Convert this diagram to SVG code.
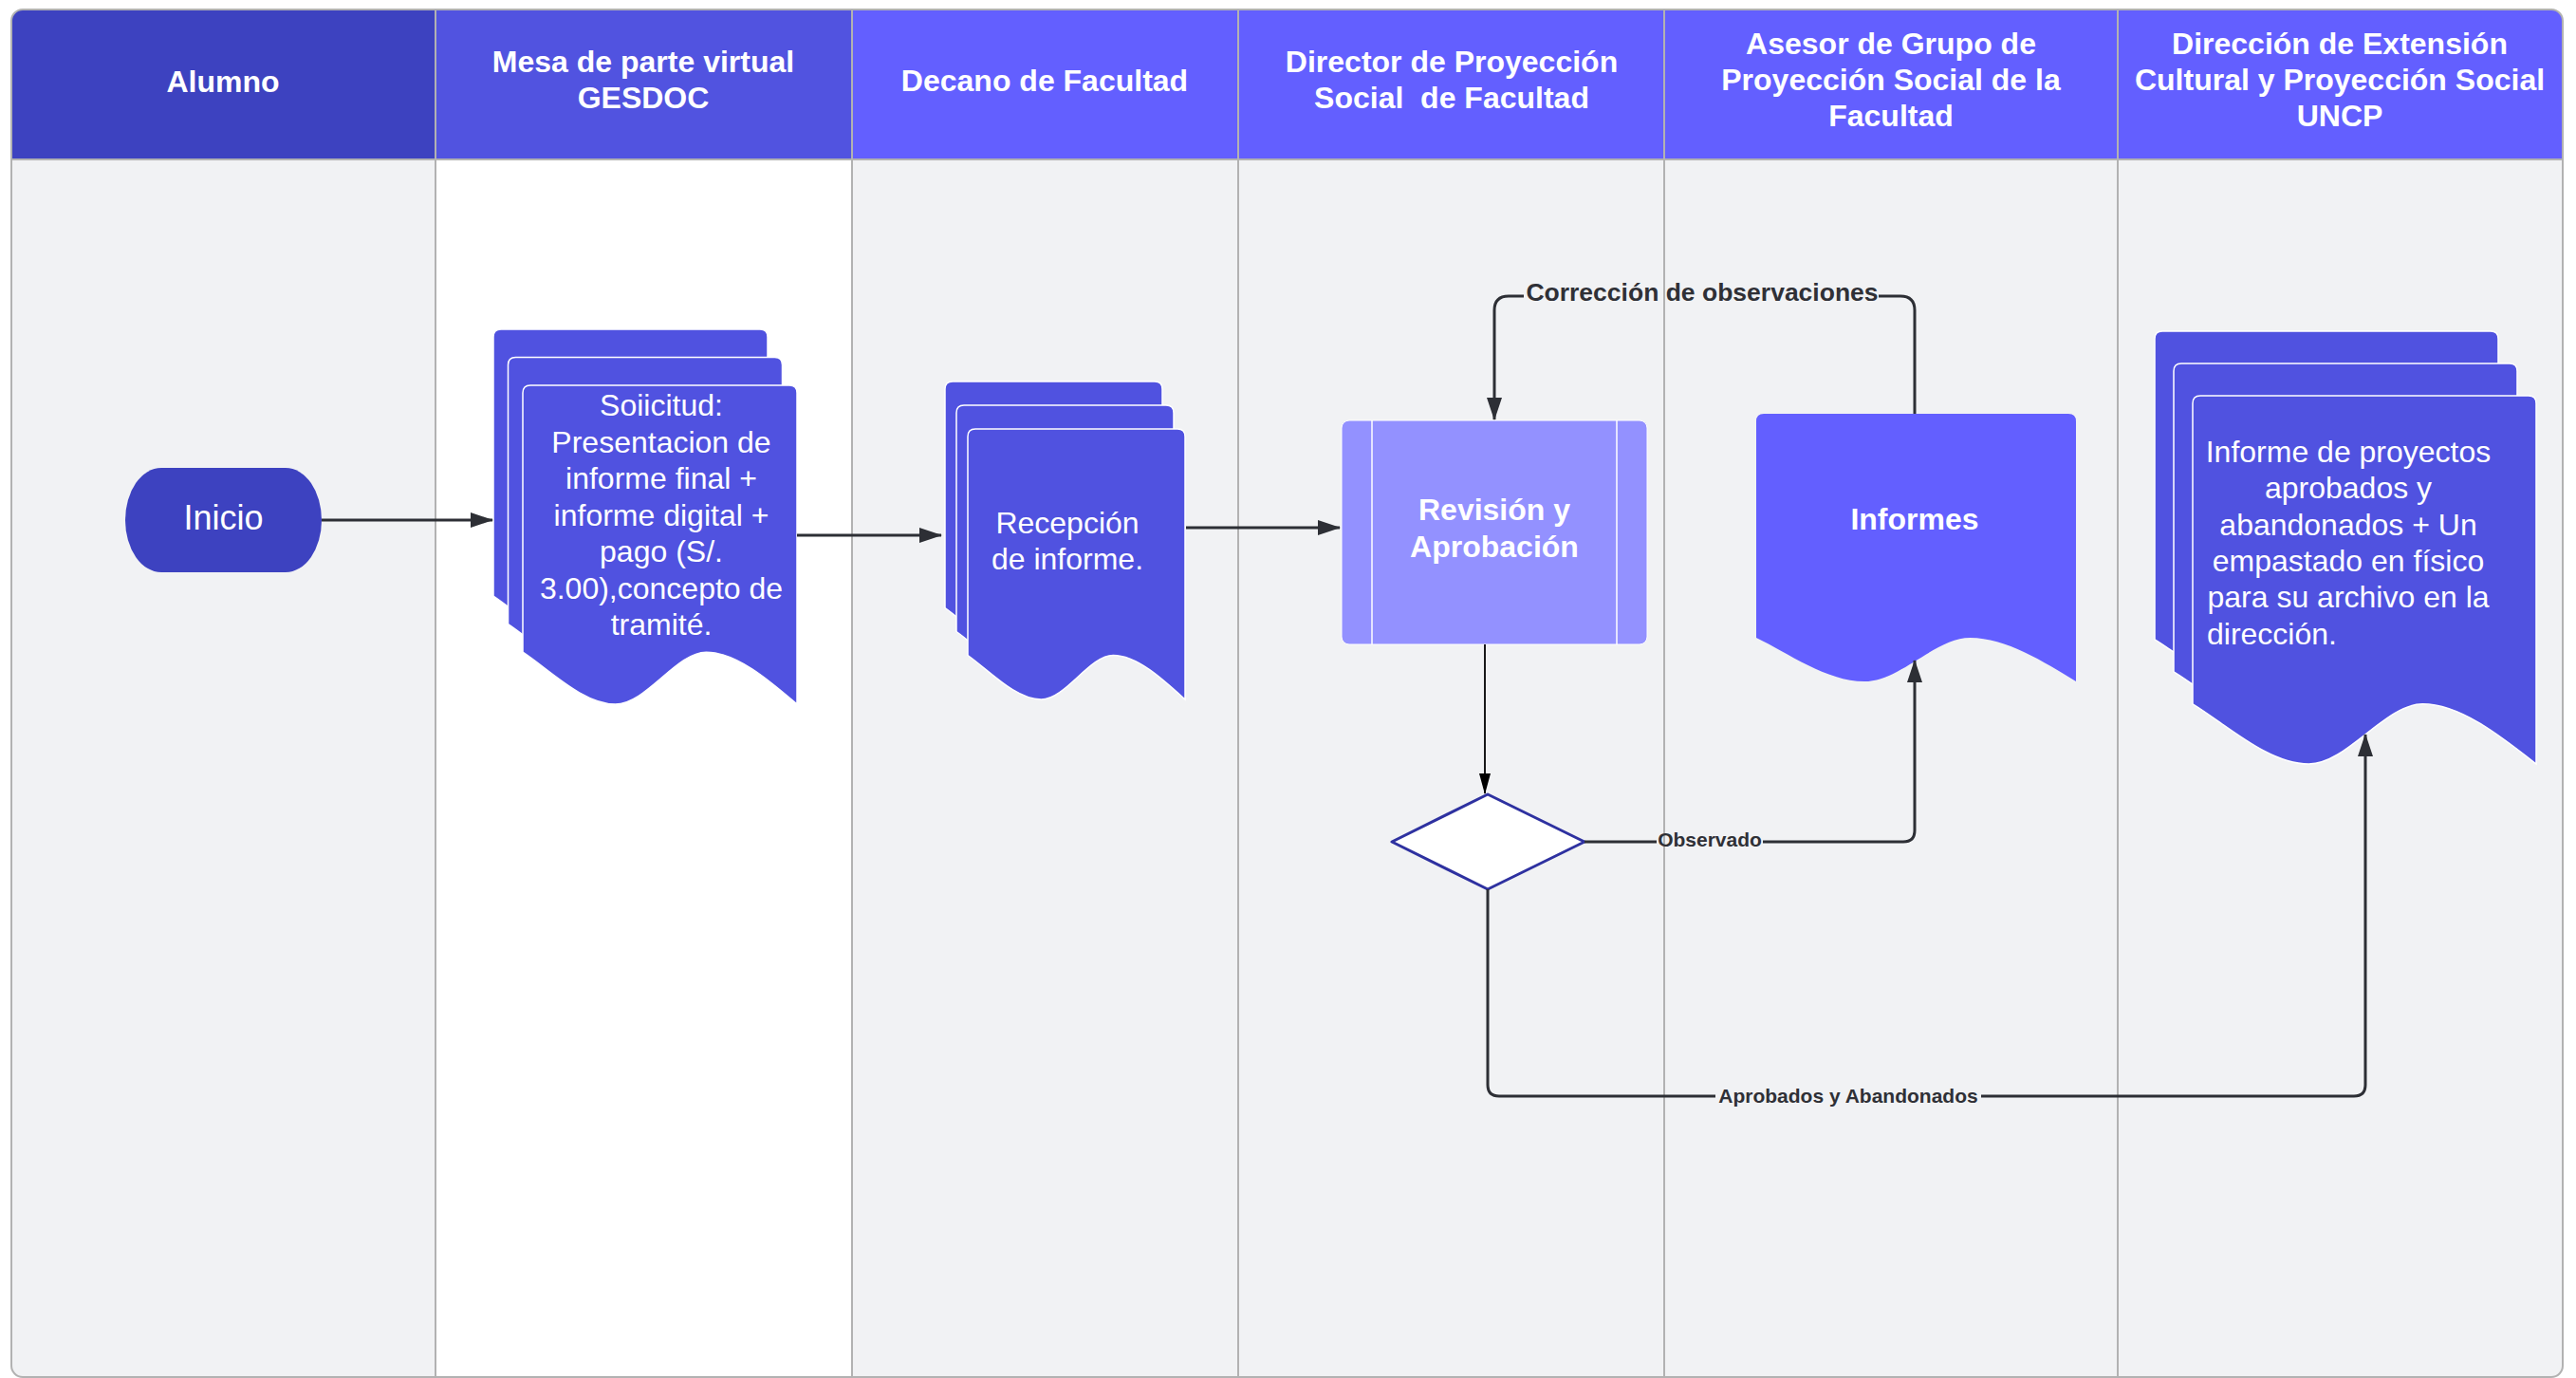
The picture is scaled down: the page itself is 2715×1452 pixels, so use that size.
<svg xmlns="http://www.w3.org/2000/svg" width="2715" height="1452" viewBox="0 0 2715 1452">
<defs>
<style>
.lane-gray{fill:#F1F2F4}
.lane-white{fill:#FFFFFF}
.divider{stroke:#B2B2B2;stroke-width:2;fill:none}
.hdr{font-family:"Liberation Sans",Arial,sans-serif;font-weight:bold;font-size:32px;fill:#FFFFFF;text-anchor:middle}
.body{font-family:"Liberation Sans",Arial,sans-serif;font-size:32px;fill:#FFFFFF;text-anchor:middle}
.bold{font-weight:bold}
.left{text-anchor:start}
.big{font-size:36px}
.page{fill:#5052E0;stroke:#FFFFFF;stroke-width:1.5}
.conn{fill:none;stroke:#2D2F35;stroke-width:3;stroke-linejoin:round}
.thin{fill:none;stroke:#000000;stroke-width:1.8}
.lbl{font-family:"Liberation Sans",Arial,sans-serif;font-weight:bold;fill:#2F3036;text-anchor:middle;font-size:21px}
.lbl-l{font-size:26.5px}
</style>
<clipPath id="frame"><rect x="12" y="10" width="2689" height="1441" rx="12" ry="12"/></clipPath>
<marker id="arr" markerUnits="userSpaceOnUse" markerWidth="24" markerHeight="16" viewBox="0 0 24 16" refX="23" refY="8" orient="auto">
<path d="M0,0 L24,8 L0,16 Z" fill="#2D2F35"/>
</marker>
<marker id="arrThin" markerUnits="userSpaceOnUse" markerWidth="22" markerHeight="12" viewBox="0 0 22 12" refX="21" refY="6" orient="auto">
<path d="M0,0 L22,6 L0,12 Z" fill="#000000"/>
</marker>
<path id="pageMesa" d="M0,281.2 V8 Q0,0 8,0 H281 Q289,0 289,8 V336 C260.1,311.3 225.4,281.2 193.3,281.2 C161.8,281.2 130.1,336 97.7,336 C63.6,336 28.9,300.4 0,281.2 Z"/>
<path id="pageDec" d="M0,238.5 V8 Q0,0 8,0 H221 Q229,0 229,8 V285 C206.1,264.1 178.6,238.5 153.2,238.5 C128.2,238.5 103.1,285 77.4,285 C50.4,285 22.9,254.8 0,238.5 Z"/>
<path id="pageDir" d="M0,324.8 V8 Q0,0 8,0 H354 Q362,0 362,8 V388 C325.8,359.6 282.4,324.8 242.2,324.8 C202.7,324.8 162.9,388 122.4,388 C79.6,388 36.2,346.9 0,324.8 Z"/>
</defs>

<g id="pool" clip-path="url(#frame)">
<rect class="lane-gray" x="12" y="10" width="447" height="1442"/>
<rect class="lane-white" x="459" y="10" width="439" height="1442"/>
<rect class="lane-gray" x="898" y="10" width="1803" height="1442"/>
<rect x="12" y="10" width="447" height="158" fill="#3D42C0"/>
<rect x="459" y="10" width="439" height="158" fill="#5153E0"/>
<rect x="898" y="10" width="1803" height="158" fill="#635FFF"/>
<line class="divider" x1="12" y1="168" x2="2701" y2="168"/>
<line class="divider" x1="459" y1="10" x2="459" y2="1452"/>
<line class="divider" x1="898" y1="10" x2="898" y2="1452"/>
<line class="divider" x1="1305" y1="10" x2="1305" y2="1452"/>
<line class="divider" x1="1754" y1="10" x2="1754" y2="1452"/>
<line class="divider" x1="2232" y1="10" x2="2232" y2="1452"/>
</g>
<rect x="12" y="10" width="2689" height="1441" rx="12" ry="12" fill="none" stroke="#B2B2B2" stroke-width="2"/>

<g id="headers">
<text class="hdr" x="235" y="97">Alumno</text>
<text class="hdr" x="678" y="76">Mesa de parte virtual</text>
<text class="hdr" x="678" y="114">GESDOC</text>
<text class="hdr" x="1101" y="96">Decano de Facultad</text>
<text class="hdr" x="1530" y="76">Director de Proyección</text>
<text class="hdr" x="1530" y="114" xml:space="preserve">Social  de Facultad</text>
<text class="hdr" x="1993" y="57">Asesor de Grupo de</text>
<text class="hdr" x="1993" y="95">Proyección Social de la</text>
<text class="hdr" x="1993" y="133">Facultad</text>
<text class="hdr" x="2466" y="57">Dirección de Extensión</text>
<text class="hdr" x="2466" y="95">Cultural y Proyección Social</text>
<text class="hdr" x="2466" y="133">UNCP</text>
</g>

<g id="inicio">
<rect x="132" y="493" width="207" height="110" rx="38" ry="55" fill="#3D42C0"/>
<text class="body big" x="235.5" y="558">Inicio</text>
</g>

<g id="solicitud">
<use href="#pageMesa" class="page" transform="translate(520,347)"/>
<use href="#pageMesa" class="page" transform="translate(535.5,376.5)"/>
<use href="#pageMesa" class="page" transform="translate(551,406)"/>
<text class="body" x="697" y="438">Soiicitud:</text>
<text class="body" x="697" y="477">Presentacion de</text>
<text class="body" x="697" y="515">informe final +</text>
<text class="body" x="697" y="554">informe digital +</text>
<text class="body" x="697" y="592">pago (S/.</text>
<text class="body" x="697" y="631">3.00),concepto de</text>
<text class="body" x="697" y="669">tramité.</text>
</g>

<g id="recepcion">
<use href="#pageDec" class="page" transform="translate(996,402)"/>
<use href="#pageDec" class="page" transform="translate(1008,427)"/>
<use href="#pageDec" class="page" transform="translate(1020,452)"/>
<text class="body" x="1125" y="562">Recepción</text>
<text class="body" x="1125" y="600">de informe.</text>
</g>

<g id="revision">
<rect x="1414" y="443" width="322" height="236" rx="8" ry="8" fill="#9391FF" stroke="#FFFFFF" stroke-width="1"/>
<line x1="1446" y1="443" x2="1446" y2="679" stroke="#FFFFFF" stroke-width="1.5"/>
<line x1="1704" y1="443" x2="1704" y2="679" stroke="#FFFFFF" stroke-width="1.5"/>
<text class="body bold" x="1575" y="548">Revisión y</text>
<text class="body bold" x="1575" y="587">Aprobación</text>
</g>

<g id="decision">
<path d="M1568,837 L1670,887 L1568,937 L1467,887 Z" fill="#FFFFFF" stroke="#2E31A0" stroke-width="3" stroke-linejoin="round"/>
</g>

<g id="informes">
<path d="M0,236 V8 Q0,0 8,0 H329 Q337,0 337,8 V282 C303.3,261.3 262.9,236 225.5,236 C188.7,236 151.7,282 113.9,282 C74.1,282 33.7,252.1 0,236 Z" fill="#635FFF" transform="translate(1851,436)"/>
<text class="body bold" x="2018" y="558">Informes</text>
</g>

<g id="informe-proyectos">
<use href="#pageDir" class="page" transform="translate(2271,349)"/>
<use href="#pageDir" class="page" transform="translate(2291,383)"/>
<use href="#pageDir" class="page" transform="translate(2311,417)"/>
<text class="body" x="2475" y="487">Informe de proyectos</text>
<text class="body" x="2475" y="525">aprobados y</text>
<text class="body" x="2475" y="564">abandonados + Un</text>
<text class="body" x="2475" y="602">empastado en físico</text>
<text class="body" x="2475" y="640">para su archivo en la</text>
<text class="body left" x="2326" y="679">dirección.</text>
</g>

<g id="connectors">
<path class="conn" d="M339,548 H519" marker-end="url(#arr)"/>
<path class="conn" d="M840,564 H992" marker-end="url(#arr)"/>
<path class="conn" d="M1250,556 H1412" marker-end="url(#arr)"/>
<path class="thin" d="M1565,679 V836" marker-end="url(#arrThin)"/>
<path class="conn" d="M1606,312 H1590 Q1575,312 1575,327 V442" marker-end="url(#arr)"/>
<path class="conn" d="M2018,436 V327 Q2018,312 2003,312 H1980"/>
<text class="lbl lbl-l" x="1794" y="317">Corrección de observaciones</text>
<path class="conn" d="M1670,887 H1746"/>
<path class="conn" d="M1858,887 H2006 Q2018,887 2018,875 V696" marker-end="url(#arr)"/>
<text class="lbl" x="1802" y="892">Observado</text>
<path class="conn" d="M1568,937 V1143 Q1568,1155 1580,1155 H1808"/>
<path class="conn" d="M2088,1155 H2481 Q2493,1155 2493,1143 V774" marker-end="url(#arr)"/>
<text class="lbl" x="1948" y="1162">Aprobados y Abandonados</text>
</g>
</svg>
